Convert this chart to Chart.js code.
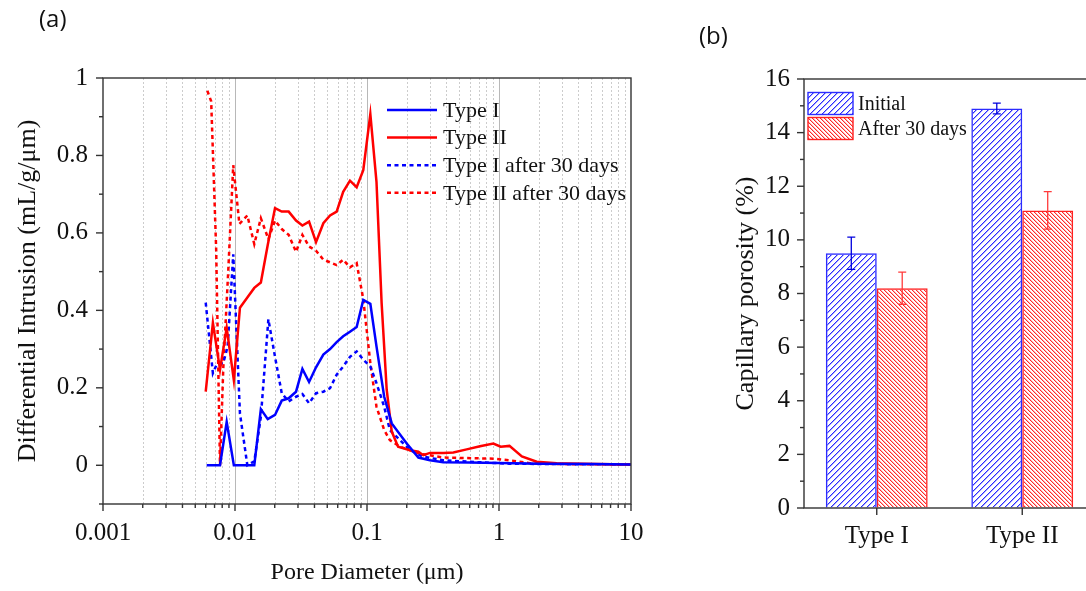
<!DOCTYPE html>
<html>
<head>
<meta charset="utf-8">
<script src="https://cdn.jsdelivr.net/npm/chart.js@4.4.1/dist/chart.umd.min.js"></script>
<style>
  html, body { margin: 0; padding: 0; background: #fff; overflow: hidden; }
  #wrap { position: relative; width: 1086px; height: 591px; overflow: hidden; background: #fff; }
  #leftChart { position: absolute; left: 0; top: 0; }
  #rightChart { position: absolute; left: 690px; top: 0; }
  .panel { position: absolute; font-family: "Open Sans", sans-serif; font-size: 24px; color: #111; }
</style>
</head>
<body>
<div id="wrap">
  <canvas id="leftChart" width="680" height="591"></canvas>
  <canvas id="rightChart" width="420" height="591"></canvas>
  <div class="panel" style="left:39px; top:1px;">(a)</div>
  <div class="panel" style="left:699px; top:18px;">(b)</div>
</div>
<script>
// ---- (a) pore size distribution ----
const typeIX = [0.0061, 0.0077, 0.00865, 0.0098, 0.014, 0.0157, 0.0177, 0.0201, 0.0226, 0.0255, 0.029, 0.0324, 0.0364, 0.0411, 0.0467, 0.0525, 0.0589, 0.066, 0.0743, 0.0835, 0.0937, 0.106, 0.118, 0.135, 0.154, 0.2, 0.245, 0.3, 0.378, 0.6, 1, 2, 5, 10];
const typeIY = [0, 0, 0.112, 0, 0, 0.145, 0.119, 0.13, 0.167, 0.173, 0.19, 0.249, 0.215, 0.253, 0.286, 0.30, 0.318, 0.333, 0.345, 0.357, 0.427, 0.417, 0.307, 0.177, 0.108, 0.056, 0.02, 0.013, 0.008, 0.007, 0.006, 0.004, 0.003, 0.002];

const typeIIX = [0.006, 0.0068, 0.0077, 0.00865, 0.0098, 0.0109, 0.0124, 0.014, 0.0157, 0.0177, 0.0201, 0.0226, 0.0255, 0.029, 0.0324, 0.0364, 0.0411, 0.0467, 0.0525, 0.0589, 0.066, 0.0743, 0.0835, 0.0937, 0.106, 0.118, 0.129, 0.141, 0.154, 0.172, 0.212, 0.245, 0.267, 0.3, 0.378, 0.451, 0.569, 0.718, 0.906, 1.03, 1.2, 1.49, 1.93, 2.74, 5.5, 10];
const typeIIY = [0.19, 0.368, 0.247, 0.355, 0.22, 0.407, 0.433, 0.458, 0.472, 0.569, 0.664, 0.655, 0.655, 0.632, 0.619, 0.629, 0.576, 0.625, 0.645, 0.655, 0.706, 0.735, 0.718, 0.762, 0.907, 0.732, 0.42, 0.195, 0.087, 0.048, 0.039, 0.035, 0.026, 0.032, 0.032, 0.033, 0.041, 0.049, 0.056, 0.048, 0.05, 0.023, 0.009, 0.005, 0.003, 0.002];

const typeI30X = [0.006, 0.0068, 0.00726, 0.00815, 0.0088, 0.0097, 0.0109, 0.0124, 0.014, 0.0157, 0.0179, 0.0201, 0.0226, 0.0255, 0.029, 0.0324, 0.0364, 0.0411, 0.0467, 0.0525, 0.0589, 0.066, 0.0743, 0.0835, 0.0937, 0.106, 0.118, 0.135, 0.149, 0.178, 0.212, 0.267, 0.378, 0.6, 1.2, 3, 10];
const typeI30Y = [0.42, 0.238, 0.26, 0.264, 0.307, 0.545, 0.134, 0, 0.01, 0.125, 0.377, 0.28, 0.186, 0.165, 0.177, 0.184, 0.16, 0.186, 0.19, 0.199, 0.234, 0.255, 0.28, 0.294, 0.273, 0.255, 0.212, 0.151, 0.091, 0.065, 0.039, 0.022, 0.013, 0.009, 0.004, 0.003, 0.002];

const typeII30X = [0.00617, 0.0066, 0.0072, 0.0077, 0.00815, 0.0089, 0.0097, 0.0108, 0.0124, 0.014, 0.0157, 0.0179, 0.0201, 0.0226, 0.0255, 0.029, 0.0324, 0.0364, 0.0411, 0.0467, 0.0525, 0.0589, 0.066, 0.0743, 0.0835, 0.0937, 0.106, 0.118, 0.135, 0.149, 0.178, 0.25, 0.378, 0.906, 1.2, 1.72, 3, 10];
const typeII30Y = [0.967, 0.94, 0.558, 0, 0.25, 0.506, 0.775, 0.623, 0.645, 0.571, 0.638, 0.584, 0.632, 0.61, 0.595, 0.551, 0.595, 0.565, 0.554, 0.531, 0.524, 0.517, 0.531, 0.511, 0.522, 0.429, 0.264, 0.151, 0.091, 0.065, 0.048, 0.03, 0.02, 0.017, 0.013, 0.005, 0.003, 0.002];

// tick values for (a)
const xMajorTicks = [0.001, 0.01, 0.1, 1, 10];
const xTickValues = [0.001, 0.002, 0.003, 0.004, 0.005, 0.006, 0.007, 0.008, 0.009,
  0.01, 0.02, 0.03, 0.04, 0.05, 0.06, 0.07, 0.08, 0.09,
  0.1, 0.2, 0.3, 0.4, 0.5, 0.6, 0.7, 0.8, 0.9,
  1, 2, 3, 4, 5, 6, 7, 8, 9, 10];
const yLeftTicks = [-0.1, 0, 0.1, 0.2, 0.3, 0.4, 0.5, 0.6, 0.7, 0.8, 0.9, 1];
const yLeftLabels = [0, 0.2, 0.4, 0.6, 0.8, 1];

// ---- (b) capillary porosity ----
const categories = ["Type I", "Type II"];
const initialVals = [9.5, 14.9];
const initialErr = [0.6, 0.2];
const afterVals = [8.2, 11.1];
const afterErr = [0.6, 0.7];
const yRightTicks = [0, 1, 2, 3, 4, 5, 6, 7, 8, 9, 10, 11, 12, 13, 14, 15, 16];
const yRightLabels = [0, 2, 4, 6, 8, 10, 12, 14, 16];

const serif = "'Liberation Serif', 'Times New Roman', serif";
const textColor = "#111";
const axisColor = "#333";

function toPoints(xs, ys) {
  return xs.map((x, i) => ({ x: x, y: ys[i] }));
}

// pixel hatch tile, dir 1 = "////", dir -1 = "\\\\"
function hatch(color, soft, period, dir) {
  const c = document.createElement("canvas");
  c.width = period;
  c.height = period;
  const g = c.getContext("2d");
  for (let i = 0; i < period; i++) {
    const row = dir > 0 ? period - 1 - i : i;
    g.fillStyle = color;
    g.fillRect(i, row, 1, 1);
    g.fillStyle = soft;
    g.fillRect((i + 1) % period, row, 1, 1);
  }
  return g.createPattern(c, "repeat");
}

// box around plot, log grid, tick marks (long for labelled ticks)
const framePlugin = {
  id: "frame",
  beforeDatasetsDraw(chart, args, opts) {
    if (!opts.logGrid) return;
    const ctx = chart.ctx;
    const xs = chart.scales.x;
    const a = chart.chartArea;
    ctx.save();
    ctx.lineWidth = 1;
    xs.ticks.forEach((t) => {
      if (t.value <= xs.min || t.value >= xs.max) return;
      const px = Math.round(xs.getPixelForValue(t.value)) + 0.5;
      const major = xMajorTicks.includes(t.value);
      ctx.setLineDash(major ? [] : [2, 2]);
      ctx.strokeStyle = major ? "#b8b8b8" : "#cccccc";
      ctx.beginPath();
      ctx.moveTo(px, a.top);
      ctx.lineTo(px, a.bottom);
      ctx.stroke();
    });
    ctx.restore();
  },
  afterDraw(chart) {
    const ctx = chart.ctx;
    const a = chart.chartArea;
    ctx.save();
    ctx.strokeStyle = axisColor;
    ctx.lineWidth = 1.4;
    ctx.strokeRect(a.left, a.top, a.right - a.left, a.bottom - a.top);
    const xs = chart.scales.x;
    xs.ticks.forEach((t, i) => {
      const px = xs.getPixelForTick(i);
      const len = t.label !== "" ? 7 : 4;
      ctx.beginPath();
      ctx.moveTo(px, a.bottom);
      ctx.lineTo(px, a.bottom + len);
      ctx.stroke();
    });
    const ys = chart.scales.y;
    ys.ticks.forEach((t, i) => {
      const py = ys.getPixelForTick(i);
      const len = t.label !== "" ? 7 : 4;
      ctx.beginPath();
      ctx.moveTo(a.left, py);
      ctx.lineTo(a.left - len, py);
      ctx.stroke();
    });
    ctx.restore();
  }
};

// legend drawn inside the plot area
const insideLegend = {
  id: "insideLegend",
  afterDraw(chart, args, opts) {
    const ctx = chart.ctx;
    const a = chart.chartArea;
    ctx.save();
    ctx.font = opts.fontSize + "px " + serif;
    ctx.fillStyle = textColor;
    ctx.textBaseline = "middle";
    chart.data.datasets.forEach((ds, i) => {
      const y = a.top + opts.y + i * opts.rowHeight;
      const x0 = a.left + opts.x;
      if (opts.type === "line") {
        ctx.strokeStyle = ds.borderColor;
        ctx.lineWidth = ds.borderWidth;
        ctx.setLineDash(ds.borderDash || []);
        ctx.beginPath();
        ctx.moveTo(x0, y);
        ctx.lineTo(x0 + opts.sampleWidth, y);
        ctx.stroke();
        ctx.setLineDash([]);
      } else {
        const h = opts.boxHeight;
        ctx.fillStyle = ds.backgroundColor;
        ctx.fillRect(x0, y - h / 2, opts.sampleWidth, h);
        ctx.strokeStyle = ds.borderColor;
        ctx.lineWidth = 1.4;
        ctx.strokeRect(x0, y - h / 2, opts.sampleWidth, h);
        ctx.fillStyle = textColor;
      }
      ctx.fillText(ds.label, x0 + opts.sampleWidth + opts.gap, y + 1);
    });
    ctx.restore();
  }
};

// error bars from dataset.errors
const errorBars = {
  id: "errorBars",
  afterDatasetsDraw(chart) {
    const ctx = chart.ctx;
    const ys = chart.scales.y;
    ctx.save();
    chart.data.datasets.forEach((ds, di) => {
      if (!ds.errors) return;
      const meta = chart.getDatasetMeta(di);
      meta.data.forEach((bar, i) => {
        const v = ds.data[i];
        const e = ds.errors[i];
        const yTop = ys.getPixelForValue(v + e);
        const yBot = ys.getPixelForValue(v - e);
        ctx.strokeStyle = ds.errorColor;
        ctx.lineWidth = 1.3;
        ctx.beginPath();
        ctx.moveTo(bar.x, yTop); ctx.lineTo(bar.x, yBot);
        ctx.moveTo(bar.x - 4, yTop); ctx.lineTo(bar.x + 4, yTop);
        ctx.moveTo(bar.x - 4, yBot); ctx.lineTo(bar.x + 4, yBot);
        ctx.stroke();
      });
    });
    ctx.restore();
  }
};

// ---------- chart (a) ----------
new Chart(document.getElementById("leftChart"), {
  type: "line",
  data: {
    datasets: [
      { label: "Type I", data: toPoints(typeIX, typeIY), borderColor: "#0000ff", borderWidth: 2.5 },
      { label: "Type II", data: toPoints(typeIIX, typeIIY), borderColor: "#ff0000", borderWidth: 2.5 },
      { label: "Type I after 30 days", data: toPoints(typeI30X, typeI30Y), borderColor: "#0000ff", borderWidth: 2.5, borderDash: [4, 3.5] },
      { label: "Type II after 30 days", data: toPoints(typeII30X, typeII30Y), borderColor: "#ff0000", borderWidth: 2.5, borderDash: [4, 3.5] }
    ]
  },
  options: {
    responsive: false,
    animation: false,
    layout: { padding: { top: 78, right: 49, bottom: 0, left: 0 } },
    elements: { point: { radius: 0 }, line: { tension: 0 } },
    scales: {
      x: {
        type: "logarithmic",
        min: 0.001,
        max: 10,
        afterBuildTicks: (s) => { s.ticks = xTickValues.map((v) => ({ value: v })); },
        afterFit: (s) => { s.height = 87; },
        grid: { drawOnChartArea: false, drawTicks: false },
        border: { display: false },
        ticks: {
          autoSkip: false, maxRotation: 0, padding: 14, color: textColor,
          font: { family: serif, size: 25 },
          callback: (v) => (xMajorTicks.includes(v) ? String(v) : "")
        },
        title: {
          display: true, text: "Pore Diameter (μm)", color: textColor,
          font: { family: serif, size: 24 }, padding: { top: 0, bottom: 4 }
        }
      },
      y: {
        min: -0.1,
        max: 1,
        afterBuildTicks: (s) => { s.ticks = yLeftTicks.map((v) => ({ value: v })); },
        afterFit: (s) => { s.width = 103; },
        grid: { drawOnChartArea: false, drawTicks: false },
        border: { display: false },
        ticks: {
          autoSkip: false, padding: 15, color: textColor,
          font: { family: serif, size: 25 },
          callback: (v) => (yLeftLabels.includes(v) ? String(v) : "")
        },
        title: {
          display: true, text: "Differential Intrusion (mL/g/μm)", color: textColor,
          font: { family: serif, size: 26 }, padding: { top: 13, bottom: 0 }
        }
      }
    },
    plugins: {
      legend: { display: false },
      tooltip: { enabled: false },
      frame: { logGrid: true },
      insideLegend: { type: "line", x: 284, y: 32, rowHeight: 27.6, sampleWidth: 50, gap: 6, fontSize: 22 }
    }
  },
  plugins: [framePlugin, insideLegend]
});

// ---------- chart (b) ----------
new Chart(document.getElementById("rightChart"), {
  type: "bar",
  data: {
    labels: categories,
    datasets: [
      { label: "Initial", data: initialVals, errors: initialErr, errorColor: "#0000dd",
        backgroundColor: hatch("#2a2aff", "rgba(60,60,255,0.45)", 6, 1), borderColor: "#2b2bff", borderWidth: 1.5 },
      { label: "After 30 days", data: afterVals, errors: afterErr, errorColor: "#ff3b3b",
        backgroundColor: hatch("#ff2a2a", "rgba(255,60,60,0.4)", 4, -1), borderColor: "#ff2020", borderWidth: 1.5 }
    ]
  },
  options: {
    responsive: false,
    animation: false,
    layout: { padding: { top: 79, right: 15, bottom: 0, left: 0 } },
    datasets: { bar: { categoryPercentage: 0.7, barPercentage: 1 } },
    scales: {
      x: {
        offset: true,
        afterFit: (s) => { s.height = 83; },
        grid: { offset: false, drawOnChartArea: false, drawTicks: false },
        border: { display: false },
        ticks: { padding: 13, color: textColor, font: { family: serif, size: 25 } }
      },
      y: {
        min: 0,
        max: 16,
        afterBuildTicks: (s) => { s.ticks = yRightTicks.map((v) => ({ value: v })); },
        afterFit: (s) => { s.width = 114; },
        grid: { drawOnChartArea: false, drawTicks: false },
        border: { display: false },
        ticks: {
          autoSkip: false, padding: 14, color: textColor,
          font: { family: serif, size: 25 },
          callback: (v) => (yRightLabels.includes(v) ? String(v) : "")
        },
        title: {
          display: true, text: "Capillary porosity (%)", color: textColor,
          font: { family: serif, size: 26 }, padding: { top: 41, bottom: 0 }
        }
      }
    },
    plugins: {
      legend: { display: false },
      tooltip: { enabled: false },
      frame: { logGrid: false },
      insideLegend: { type: "box", x: 4, y: 24.5, rowHeight: 25, sampleWidth: 45, boxHeight: 22, gap: 5, fontSize: 20 }
    }
  },
  plugins: [framePlugin, errorBars, insideLegend]
});
</script>
</body>
</html>
